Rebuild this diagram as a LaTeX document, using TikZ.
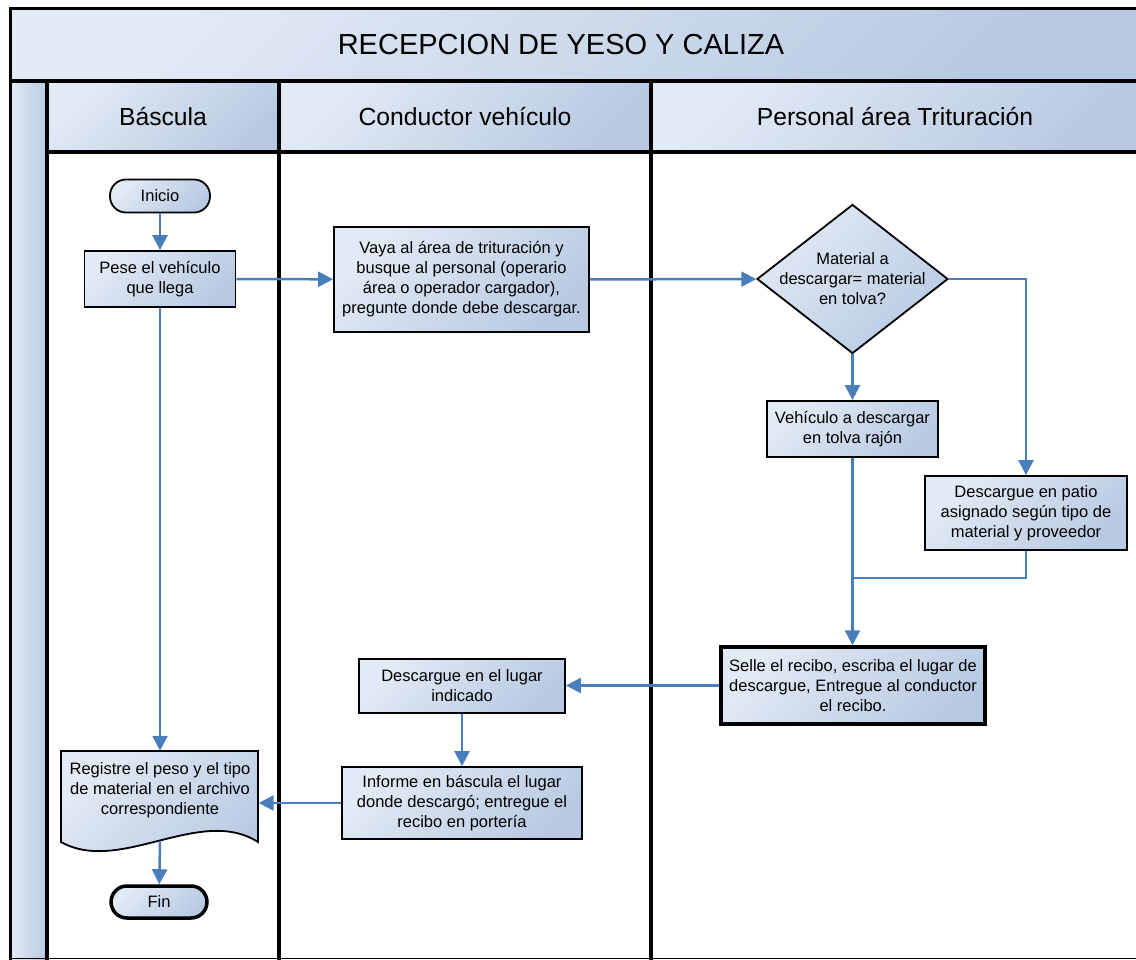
\documentclass[tikz,border=0pt]{standalone}
\usepackage{fontspec}
\setmainfont{Liberation Sans}
\usetikzlibrary{shapes.geometric,arrows.meta}
\definecolor{flowblue}{HTML}{4A7EBB}
\definecolor{fillhi}{HTML}{E2EAF5}
\definecolor{filllo}{HTML}{B8CAE3}
\newcommand{\boxfont}{\fontsize{16.5}{20}\selectfont}

\tikzset{
  shadebox/.style={top color=fillhi, bottom color=filllo, shading angle=45},
  proc/.style={rectangle, draw=black, line width=1.8pt, shadebox, align=center, inner sep=3pt, font=\boxfont},
  procbold/.style={proc, line width=3.5pt},
  term/.style={proc, rounded corners=16pt, minimum width=100, minimum height=33},
  dec/.style={diamond, draw=black, line width=1.8pt, shadebox, inner sep=0pt},
  dectext/.style={align=center, font=\boxfont},
  doctext/.style={rectangle, align=center, inner sep=0pt, font=\boxfont},
  flow/.style={draw=flowblue, line width=2.5pt, -{Triangle[length=15pt,width=15pt]}},
  flowline/.style={draw=flowblue, line width=2.5pt},
  lane/.style={line width=4pt},
  head/.style={font=\fontsize{24.7}{28}\selectfont}
}

\begin{document}
\begin{tikzpicture}[x=1pt,y=-1pt]
\useasboundingbox (0,0) rectangle (1136,960);
\clip (0,0) rectangle (1136,960);

\fill[shadebox] (10,9) rectangle (1140,81);
\fill[shadebox] (47,81) rectangle (279,152);
\fill[shadebox] (279,81) rectangle (651,152);
\fill[shadebox] (651,81) rectangle (1140,152);
\fill[left color=fillhi, right color=filllo] (10,81) rectangle (47,960);

\node[font=\fontsize{29}{32}\selectfont] (title) at (561,45) {RECEPCION DE YESO Y CALIZA};
\node[head] (hbas) at (163,117) {Báscula};
\node[head] (hcon) at (465,117) {Conductor vehículo};
\node[head] (hper) at (895,117) {Personal área Trituración};

\draw[line width=3pt] (10,960) -- (10,9) -- (1140,9);
\draw[lane] (10,81) -- (1140,81);
\draw[lane] (47,152) -- (1140,152);
\draw[lane] (47,81) -- (47,960);
\draw[lane] (279,81) -- (279,960);
\draw[lane] (651,81) -- (651,960);
\draw[line width=1pt] (10,958.5) -- (1140,958.5);

\node[term] (ini) at (160,196) {Inicio};
\node[proc, minimum width=151, minimum height=56] (pese) at (160,279) {Pese el vehículo\\que llega};
\node[proc, minimum width=255, minimum height=105] (vaya) at (461.5,279.5) {Vaya al área de trituración y\\busque al personal (operario\\área o operador cargador),\\pregunte donde debe descargar.};
\node[dec, minimum width=191, minimum height=149,
  label={[dectext]center:{Material a\\descargar= material\\en tolva?}}] (dec) at (852.5,279) {};
\node[proc, minimum width=171, minimum height=56] (veh) at (852.5,429) {Vehículo a descargar\\en tolva rajón};
\node[proc, minimum width=202, minimum height=74] (patio) at (1026,513) {Descargue en patio\\asignado según tipo de\\material y proveedor};
\node[procbold, minimum width=264, minimum height=77] (selle) at (853,685.5) {Selle el recibo, escriba el lugar de\\descargue, Entregue al conductor\\el recibo.};
\node[proc, minimum width=206, minimum height=54] (desc) at (462,686) {Descargue en el lugar\\indicado};
\node[proc, minimum width=240, minimum height=72] (inf) at (462,803) {Informe en báscula el lugar\\donde descargó; entregue el\\recibo en portería};

\draw[line width=1.8pt, shadebox] (61,751) -- (258,751) -- (258,842) .. controls (200,805) and (120,875) .. (61,842) -- cycle;
\node[doctext, minimum width=197, minimum height=78] (reg) at (160,790) {Registre el peso y el tipo\\de material en el archivo\\correspondiente};
\coordinate (regb) at (160,841);
\node[term, line width=3.5pt, minimum width=96, minimum height=32] (fin) at (159,902) {Fin};

\coordinate (mrg) at (852.5,578);

\draw[flow] (ini) -- (pese);
\draw[flow] (pese) -- (vaya);
\draw[flow] (vaya) -- (dec);
\draw[flow] (dec) -- (veh);
\draw[flow] (dec.east) -| (patio.north);
\draw[flow] (veh.south) -- (veh.south |- selle.north);
\draw[flowline] (patio.south) |- (mrg);
\draw[flow] (selle.west) -- (selle.west -| desc.east);
\draw[flow] (desc) -- (inf);
\draw[flow] (inf.west) -- (inf.west -| reg.east);
\draw[flow] (pese) -- (reg);
\draw[flow] (regb) -- (fin);
\end{tikzpicture}
\end{document}
